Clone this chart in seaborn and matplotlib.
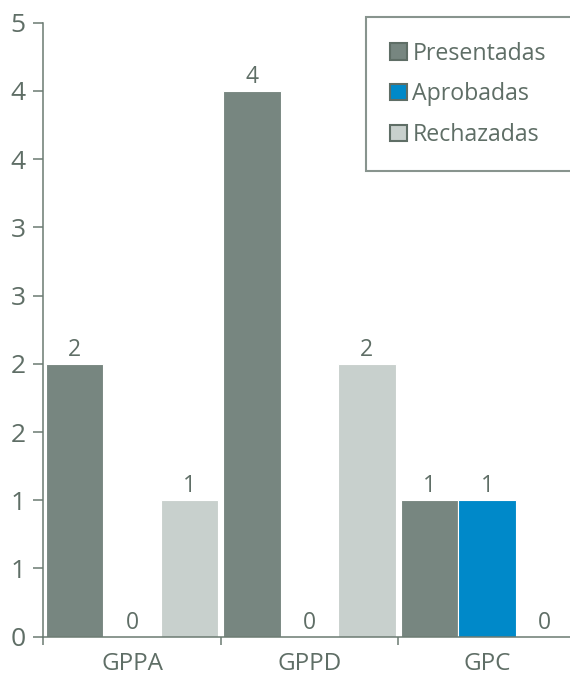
import numpy as np
import pandas as pd
import matplotlib
matplotlib.use("Agg")
import matplotlib.pyplot as plt
from matplotlib.patches import Patch
from matplotlib.ticker import FixedLocator, FuncFormatter
import seaborn as sns

# datos del gráfico
GRUPOS = ["GPPA", "GPPD", "GPC"]
SERIES = ["Presentadas", "Aprobadas", "Rechazadas"]
PRESENTADAS = [2, 4, 1]
APROBADAS = [0, 0, 1]
RECHAZADAS = [1, 2, 0]

COLORES = {"Presentadas": "#778680", "Aprobadas": "#0089c9", "Rechazadas": "#c8d0cd"}
TEXTO = "#5f6e66"
EJE = "#6b7a72"

sns.set_style("ticks")
plt.rcParams["font.family"] = ["Open Sans", "DejaVu Sans"]

df = pd.DataFrame({
    "grupo": GRUPOS * 3,
    "tipo": [s for s in SERIES for _ in GRUPOS],
    "valor": PRESENTADAS + APROBADAS + RECHAZADAS,
})

fig = plt.figure(figsize=(5.7, 6.77), dpi=100)
ax = fig.add_axes([0.076, 0.0595, 0.934, 0.907])

sns.barplot(data=df, x="grupo", y="valor", hue="tipo", hue_order=SERIES,
            order=GRUPOS, palette=COLORES, saturation=1, width=0.97,
            edgecolor="white", linewidth=0.8, legend=False, ax=ax, errorbar=None)

for cont in ax.containers:
    ax.bar_label(cont, fmt="%d", padding=1.5, fontsize=16.5, color=TEXTO)

ax.set_xlim(-0.5, 2.5)
ax.set_ylim(0, 4.5)
ax.set_xlabel("")
ax.set_ylabel("")

# ejes y marcas
ax.yaxis.set_major_locator(FixedLocator(np.arange(0, 4.51, 0.5)))
ax.yaxis.set_major_formatter(FuncFormatter(lambda v, _: f"{int(np.floor(v + 0.5))}"))
ax.tick_params(axis="y", length=7.2, width=1.1, color=EJE, labelsize=19,
               labelcolor=TEXTO, pad=5.5)

ax.xaxis.set_major_locator(FixedLocator([-0.5, 0.5, 1.5, 2.5]))
ax.xaxis.set_major_formatter(FuncFormatter(lambda v, _: ""))
ax.xaxis.set_minor_locator(FixedLocator([0, 1, 2]))
ax.set_xticklabels(GRUPOS, minor=True)
ax.tick_params(axis="x", which="major", length=5.8, width=1.1, color=EJE)
ax.tick_params(axis="x", which="minor", length=0, labelsize=17.5,
               labelcolor=TEXTO, pad=11)

for side in ["top", "right"]:
    ax.spines[side].set_visible(False)
for side in ["left", "bottom"]:
    ax.spines[side].set_color(EJE)
    ax.spines[side].set_linewidth(1.1)

# la leyenda se sale por la derecha, como en el original
handles = [Patch(facecolor=COLORES[s], edgecolor=TEXTO, linewidth=1.5, label=s)
           for s in SERIES]
leg = ax.legend(handles=handles, loc="upper left",
                bbox_to_anchor=(0.6054, 1.0088, 0.45, 0), mode="expand",
                borderaxespad=0, fontsize=16.7, frameon=True, fancybox=False,
                handlelength=0.72, handleheight=0.72, handletextpad=0.25,
                labelspacing=0.72, borderpad=1.05)
leg.get_frame().set_edgecolor(EJE)
leg.get_frame().set_linewidth(1.5)
for t in leg.get_texts():
    t.set_color(TEXTO)

fig.savefig("out.png", dpi=100)
